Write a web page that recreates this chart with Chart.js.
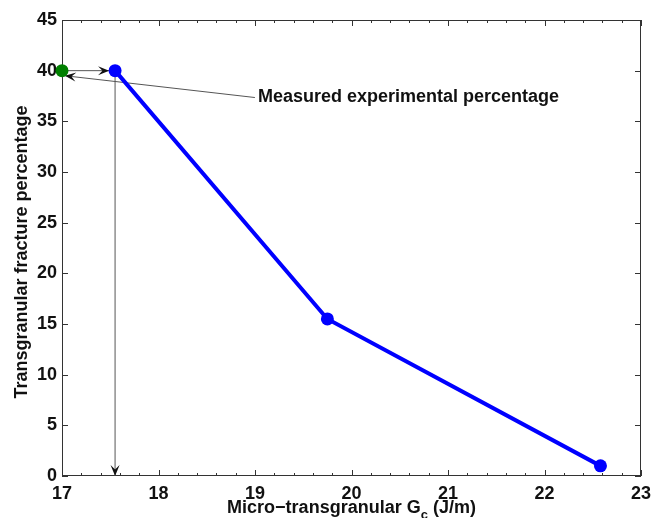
<!DOCTYPE html>
<html>
<head>
<meta charset="utf-8">
<script src="https://cdn.jsdelivr.net/npm/chart.js@4.4.1/dist/chart.umd.min.js"></script>
<style>
  html, body { margin: 0; padding: 0; background: #fff; }
  #wrap { width: 651px; height: 518px; }
</style>
</head>
<body>
<div id="wrap"><canvas id="GcChart"></canvas></div>
<script>
// simulated points: micro-transgranular Gc vs transgranular fracture %
const gcValues = [17.55, 19.75, 22.58];
const percentValues = [40, 15.5, 1];

// measured experimental percentage
const measuredGc = [17];
const measuredPercent = [40];

// annotation: label anchor and arrow tip (data units)
const noteText = 'Measured experimental percentage';
const notePos = [19.03, 37.35];
const noteTip = [17.03, 39.5];

const xMin = 17, xMax = 23, xStep = 1, xMinorStep = 0.2;
const yMin = 0, yMax = 45, yStep = 5;

const FONT = '"Liberation Sans", Arial, Helvetica, sans-serif';

function arrowHead(ctx, x1, y1, x2, y2, len, half) {
    const a = Math.atan2(y2 - y1, x2 - x1);
    const c = Math.cos(a), s = Math.sin(a);
    const bx = x2 - len * c, by = y2 - len * s;
    const nx = x2 - len * 0.6 * c, ny = y2 - len * 0.6 * s;
    ctx.beginPath();
    ctx.moveTo(x2, y2);
    ctx.lineTo(bx - half * s, by + half * c);
    ctx.lineTo(nx, ny);
    ctx.lineTo(bx + half * s, by - half * c);
    ctx.closePath();
    ctx.fill();
}

function arrow(ctx, x1, y1, x2, y2) {
    ctx.beginPath();
    ctx.moveTo(x1, y1);
    ctx.lineTo(x2, y2);
    ctx.stroke();
    arrowHead(ctx, x1, y1, x2, y2, 11, 4.5);
}

const framePlugin = {
    id: 'frame',
    beforeDatasetsDraw(chart) {
        const ctx = chart.ctx;
        const a = chart.chartArea;
        const xs = chart.scales.x, ys = chart.scales.y;
        ctx.save();
        ctx.strokeStyle = '#333';
        ctx.lineWidth = 1;
        ctx.strokeRect(a.left + 0.5, a.top + 0.5, a.right - a.left - 1, a.bottom - a.top - 1);
        ctx.beginPath();
        // x ticks, inward on bottom and top
        for (let i = 0; i <= Math.round((xMax - xMin) / xMinorStep); i++) {
            const v = xMin + i * xMinorStep;
            const px = Math.round(xs.getPixelForValue(v)) + 0.5;
            const major = Math.abs(v - Math.round(v)) < 1e-6;
            const len = major ? 6 : 3;
            ctx.moveTo(px, a.bottom); ctx.lineTo(px, a.bottom - len);
            ctx.moveTo(px, a.top); ctx.lineTo(px, a.top + len);
        }
        // y ticks, inward on left and right
        for (let v = yMin; v <= yMax; v += yStep) {
            const py = Math.round(ys.getPixelForValue(v)) + 0.5;
            ctx.moveTo(a.left, py); ctx.lineTo(a.left + 6, py);
            ctx.moveTo(a.right, py); ctx.lineTo(a.right - 6, py);
        }
        ctx.stroke();

        // arrows
        ctx.strokeStyle = '#555';
        ctx.fillStyle = '#111';
        const gx = xs.getPixelForValue(measuredGc[0]), gy = ys.getPixelForValue(measuredPercent[0]);
        const bx = xs.getPixelForValue(gcValues[0]), by = ys.getPixelForValue(percentValues[0]);
        arrow(ctx, gx, gy, bx - 6, by);
        arrow(ctx, bx, by + 4, bx, ys.getPixelForValue(0));
        const tx = xs.getPixelForValue(notePos[0]) - 3, ty = ys.getPixelForValue(notePos[1]);
        arrow(ctx, tx, ty, xs.getPixelForValue(noteTip[0]), ys.getPixelForValue(noteTip[1]));
        ctx.restore();
    },
    afterDatasetsDraw(chart) {
        const ctx = chart.ctx;
        const a = chart.chartArea;
        const xs = chart.scales.x, ys = chart.scales.y;
        ctx.save();
        ctx.fillStyle = '#111';
        ctx.font = 'bold 18px ' + FONT;
        ctx.textBaseline = 'middle';
        ctx.textAlign = 'left';
        ctx.fillText(noteText, xs.getPixelForValue(notePos[0]), ys.getPixelForValue(notePos[1]));

        // x axis title with subscript c
        const main = 'Micro\u2212transgranular G';
        const tail = ' (J/m)';
        ctx.font = 'bold 18px ' + FONT;
        const w1 = ctx.measureText(main).width;
        const w3 = ctx.measureText(tail).width;
        ctx.font = 'bold 13px ' + FONT;
        const w2 = ctx.measureText('c').width;
        let x0 = (a.left + a.right) / 2 - (w1 + w2 + w3) / 2;
        const base = 513;
        ctx.textBaseline = 'alphabetic';
        ctx.font = 'bold 18px ' + FONT;
        ctx.fillText(main, x0, base);
        ctx.font = 'bold 13px ' + FONT;
        ctx.fillText('c', x0 + w1, base + 6);
        ctx.font = 'bold 18px ' + FONT;
        ctx.fillText(tail, x0 + w1 + w2, base);

        // y axis title
        ctx.translate(22, (a.top + a.bottom) / 2 + 4);
        ctx.rotate(-Math.PI / 2);
        ctx.textAlign = 'center';
        ctx.textBaseline = 'middle';
        ctx.fillText('Transgranular fracture percentage', 0, 0);
        ctx.restore();
    }
};

new Chart(document.getElementById('GcChart'), {
    type: 'scatter',
    data: {
        datasets: [{
            label: 'Simulated',
            data: gcValues.map((x, i) => ({ x: x, y: percentValues[i] })),
            showLine: true,
            borderColor: 'rgb(0,0,255)',
            backgroundColor: 'rgb(0,0,255)',
            borderWidth: 4,
            pointBorderWidth: 0,
            pointRadius: 6.5,
            pointHoverRadius: 6.5,
            clip: false
        }, {
            label: 'Measured',
            data: measuredGc.map((x, i) => ({ x: x, y: measuredPercent[i] })),
            borderColor: 'rgb(0,128,0)',
            backgroundColor: 'rgb(0,128,0)',
            pointBorderWidth: 0,
            pointRadius: 6.5,
            clip: false
        }]
    },
    options: {
        responsive: true,
        maintainAspectRatio: false,
        animation: false,
        events: [],
        layout: { padding: { left: 0, top: 20, right: 0, bottom: 0 } },
        plugins: { legend: { display: false }, tooltip: { enabled: false } },
        scales: {
            x: {
                type: 'linear', min: xMin, max: xMax,
                grid: { display: false, drawTicks: false },
                border: { display: false },
                ticks: { stepSize: xStep, padding: 7, color: '#111', font: { family: FONT, size: 18, weight: 'bold' } },
                afterFit(scale) { scale.height = 42; scale.paddingRight = 10; scale.paddingLeft = 0; }
            },
            y: {
                type: 'linear', min: yMin, max: yMax,
                grid: { display: false, drawTicks: false },
                border: { display: false },
                ticks: { stepSize: yStep, padding: 5, color: '#111', font: { family: FONT, size: 18, weight: 'bold' } },
                afterFit(scale) { scale.width = 62; scale.paddingTop = 0; scale.paddingBottom = 0; }
            }
        }
    },
    plugins: [framePlugin]
});
</script>
</body>
</html>
